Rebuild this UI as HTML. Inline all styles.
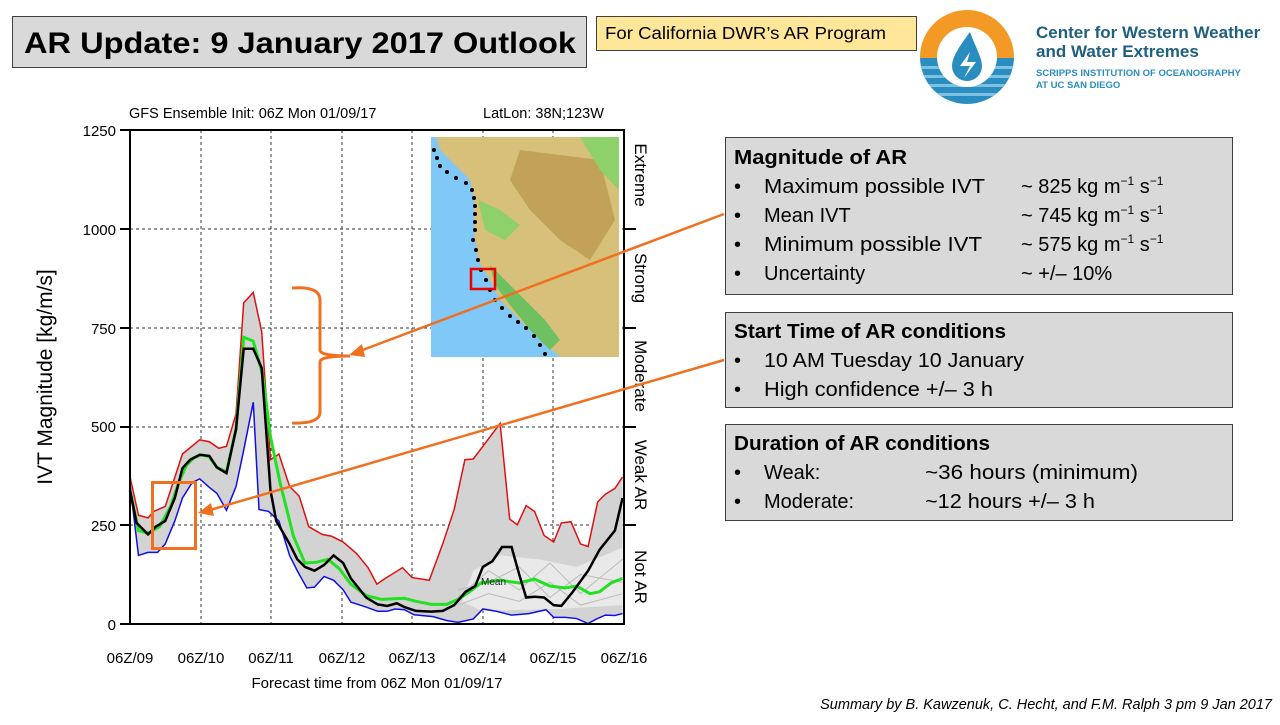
<!DOCTYPE html>
<html><head><meta charset="utf-8"><style>
body{margin:0;width:1280px;height:720px;overflow:hidden;background:#fff;font-family:"Liberation Sans",sans-serif}
</style></head><body>
<svg width="1280" height="720" xmlns="http://www.w3.org/2000/svg" font-family="Liberation Sans, sans-serif">
<rect x="12.5" y="16.5" width="574" height="51" fill="#d9d9d9" stroke="#404040"/>
<text x="24" y="53" font-size="30" font-weight="bold" fill="#000" textLength="552" lengthAdjust="spacingAndGlyphs">AR Update: 9 January 2017 Outlook</text>
<rect x="596.5" y="16.5" width="320" height="34" fill="#ffe699" stroke="#404040"/>
<text x="605" y="39" font-size="17.5" textLength="281" lengthAdjust="spacingAndGlyphs">For California DWR’s AR Program</text>
<defs><clipPath id="lc"><circle cx="967" cy="57" r="47"/></clipPath>
<clipPath id="mc"><rect x="431" y="137" width="188" height="220"/></clipPath></defs>
<g clip-path="url(#lc)">
<rect x="918" y="8" width="100" height="50" fill="#f39a26"/>
<rect x="918" y="58" width="100" height="50" fill="#2a8dc0"/>
<g fill="#7fbfdf"><rect x="918" y="66" width="100" height="3"/><rect x="918" y="75" width="100" height="3"/><rect x="918" y="84" width="100" height="3"/><rect x="918" y="93" width="100" height="3"/></g>
</g>
<circle cx="967" cy="57" r="30" fill="#fff"/>
<path d="M970 32 C958 48 952 58 952 66 a15 15 0 0 0 30 0 C982 58 976 48 970 32Z" fill="#2a8dc0"/>
<path d="M970 52 L960 66 L970 66 L964 78 L976 62 L967 62 Z" fill="#fff"/>
<text x="1036" y="38" font-size="17" font-weight="bold" fill="#1f5f7f">Center for Western Weather</text>
<text x="1036" y="57" font-size="17" font-weight="bold" fill="#1f5f7f">and Water Extremes</text>
<text x="1036" y="76" font-size="9.5" font-weight="bold" fill="#2a8dc0">SCRIPPS INSTITUTION OF OCEANOGRAPHY</text>
<text x="1036" y="88" font-size="9.5" font-weight="bold" fill="#2a8dc0">AT UC SAN DIEGO</text>

<text x="129" y="118" font-size="14.5">GFS Ensemble Init: 06Z Mon 01/09/17</text>
<text x="483" y="118" font-size="14.5">LatLon: 38N;123W</text>
<g font-size="15" text-anchor="end">
<text x="116" y="136">1250</text><text x="116" y="235">1000</text><text x="116" y="334">750</text><text x="116" y="432">500</text><text x="116" y="531">250</text><text x="116" y="630">0</text>
</g>
<text transform="translate(52,377) rotate(-90)" font-size="21" text-anchor="middle">IVT Magnitude [kg/m/s]</text>
<g font-size="15" text-anchor="middle">
<text x="130" y="663">06Z/09</text><text x="201" y="663">06Z/10</text><text x="271" y="663">06Z/11</text><text x="342" y="663">06Z/12</text><text x="412" y="663">06Z/13</text><text x="483" y="663">06Z/14</text><text x="553" y="663">06Z/15</text><text x="624" y="663">06Z/16</text>
</g>
<text x="377" y="688" font-size="15" text-anchor="middle">Forecast time from 06Z Mon 01/09/17</text>
<g font-size="17" text-anchor="middle">
<text transform="translate(635,175) rotate(90)">Extreme</text>
<text transform="translate(635,278) rotate(90)">Strong</text>
<text transform="translate(635,376) rotate(90)">Moderate</text>
<text transform="translate(635,475) rotate(90)">Weak AR</text>
<text transform="translate(635,577) rotate(90)">Not AR</text>
</g>
<g stroke="#333" stroke-width="1" stroke-dasharray="3,3">
<line x1="201" y1="130" x2="201" y2="624"/><line x1="271" y1="130" x2="271" y2="624"/><line x1="342" y1="130" x2="342" y2="624"/><line x1="412" y1="130" x2="412" y2="624"/><line x1="483" y1="130" x2="483" y2="624"/><line x1="553" y1="130" x2="553" y2="624"/>
<line x1="130" y1="229" x2="624" y2="229"/><line x1="130" y1="328" x2="624" y2="328"/><line x1="130" y1="427" x2="624" y2="427"/><line x1="130" y1="525" x2="624" y2="525"/>
</g>
<g transform="translate(60,100) scale(0.3827)">
<polygon fill="#d3d3d3" points="183,985 205,1085 230,1092 245,1075 275,1062 320,925 365,888 390,893 415,910 435,905 460,820 480,530 505,503 527,605 550,940 572,925 600,1010 625,1035 650,1115 685,1135 710,1140 740,1155 775,1185 805,1222 828,1265 850,1250 895,1222 920,1248 965,1255 1000,1160 1030,1070 1058,940 1080,938 1105,905 1150,845 1175,1095 1195,1110 1218,1060 1240,1075 1265,1138 1290,1155 1310,1105 1335,1102 1360,1160 1380,1167 1405,1050 1425,1030 1450,1015 1470,985 1470,1342 1450,1347 1425,1346 1400,1357 1380,1368 1350,1355 1320,1352 1290,1352 1270,1332 1225,1342 1180,1346 1140,1336 1105,1330 1080,1356 1040,1365 1010,1360 975,1350 925,1345 900,1332 875,1330 855,1336 830,1336 800,1325 760,1312 740,1280 715,1255 690,1245 665,1273 645,1275 620,1230 600,1190 572,1100 545,1075 520,1070 505,790 480,915 460,1010 435,1072 410,1028 390,1012 365,990 345,1000 320,1040 300,1100 275,1160 255,1182 230,1182 205,1190 183,1005"/>
<polygon fill="#e9e9e9" points="1080,1230 1150,1190 1250,1200 1350,1220 1470,1170 1470,1320 1300,1330 1100,1335 1050,1310"/>
<g fill="none" stroke="#bbb" stroke-width="1">
<polyline vector-effect="non-scaling-stroke" points="1040,1300 1120,1230 1200,1280 1280,1210 1360,1290 1470,1200"/>
<polyline vector-effect="non-scaling-stroke" points="1040,1320 1120,1290 1200,1310 1280,1260 1360,1320 1470,1290"/>
<polyline vector-effect="non-scaling-stroke" points="1040,1280 1120,1260 1200,1220 1280,1300 1360,1240 1470,1260"/>
</g>
<polyline fill="none" stroke="#e01010" stroke-width="1.5" vector-effect="non-scaling-stroke" points="183,985 205,1085 230,1092 245,1075 275,1062 320,925 365,888 390,893 415,910 435,905 460,820 480,530 505,503 527,605 550,940 572,925 600,1010 625,1035 650,1115 685,1135 710,1140 740,1155 775,1185 805,1222 828,1265 850,1250 895,1222 920,1248 965,1255 1000,1160 1030,1070 1058,940 1080,938 1105,905 1150,845 1175,1095 1195,1110 1218,1060 1240,1075 1265,1138 1290,1155 1310,1105 1335,1102 1360,1160 1380,1167 1405,1050 1425,1030 1450,1015 1470,985"/>
<polyline fill="none" stroke="#1010e0" stroke-width="1.5" vector-effect="non-scaling-stroke" points="183,1005 205,1190 230,1182 255,1182 275,1160 300,1100 320,1040 345,1000 365,990 390,1012 410,1028 435,1072 460,1010 480,915 505,790 520,1070 545,1075 572,1100 600,1190 620,1230 645,1275 665,1273 690,1245 715,1255 740,1280 760,1312 800,1325 830,1336 855,1336 875,1330 900,1332 925,1345 975,1350 1010,1360 1040,1365 1080,1356 1105,1330 1140,1336 1180,1346 1225,1342 1270,1332 1290,1352 1320,1352 1350,1355 1380,1368 1400,1357 1425,1346 1450,1347 1470,1342"/>
<polyline fill="none" stroke="#22e022" stroke-width="3" vector-effect="non-scaling-stroke" points="183,1020 205,1125 230,1132 260,1115 290,1060 310,1000 330,955 350,935 370,927 390,932 410,960 435,972 460,860 480,620 505,630 530,720 550,880 575,1000 610,1140 640,1210 670,1208 700,1200 730,1225 760,1265 800,1295 840,1305 900,1302 930,1310 970,1318 1010,1318 1040,1305 1070,1285 1100,1262 1150,1255 1200,1262 1240,1252 1280,1270 1320,1275 1350,1270 1385,1290 1410,1285 1440,1262 1470,1250"/>
<polyline fill="none" stroke="#000" stroke-width="2.5" vector-effect="non-scaling-stroke" points="183,1020 200,1105 230,1135 250,1115 275,1100 300,1040 320,962 340,940 365,927 390,930 410,960 435,975 460,860 480,650 505,650 527,700 550,1020 565,1100 600,1160 620,1200 640,1220 665,1230 690,1215 715,1190 740,1210 760,1250 800,1300 830,1318 855,1322 880,1315 900,1325 930,1335 970,1337 1000,1335 1030,1320 1060,1285 1085,1270 1105,1220 1130,1205 1155,1168 1180,1168 1200,1240 1218,1300 1240,1298 1265,1300 1290,1320 1310,1322 1340,1285 1380,1230 1410,1175 1450,1125 1470,1040"/>
</g>
<text x="481" y="585" font-size="10" fill="#222">Mean</text>
<rect x="130" y="130" width="494" height="494" fill="none" stroke="#000" stroke-width="2"/>
<g stroke="#000" stroke-width="2">
<line x1="120" y1="130" x2="130" y2="130"/><line x1="120" y1="229" x2="130" y2="229"/><line x1="120" y1="328" x2="130" y2="328"/><line x1="120" y1="427" x2="130" y2="427"/><line x1="120" y1="525" x2="130" y2="525"/><line x1="120" y1="624" x2="130" y2="624"/>
<line x1="624" y1="229" x2="636" y2="229"/><line x1="624" y1="328" x2="636" y2="328"/><line x1="624" y1="427" x2="636" y2="427"/><line x1="624" y1="525" x2="636" y2="525"/>
</g>
<g clip-path="url(#mc)">
<rect x="431" y="137" width="188" height="220" fill="#7fc8f8"/>
<polygon fill="#d7c07a" points="436,137 619,137 619,357 560,357 540,340 520,320 500,300 490,280 478,260 474,230 474,200 470,180 455,165 440,150"/>
<polygon fill="#b8954a" opacity="0.7" points="520,150 600,160 615,220 590,260 560,240 530,210 510,180"/>
<polygon fill="#8ed06a" points="580,137 619,137 619,190 600,170"/>
<polygon fill="#6ec060" points="490,265 505,280 525,300 545,320 560,340 550,350 530,330 510,305 495,285"/>
<polygon fill="#8ed06a" points="478,200 500,210 520,225 505,240 485,230"/>
</g>
<g fill="#000">
<circle cx="434" cy="150" r="2"/><circle cx="437" cy="158" r="2"/><circle cx="440" cy="166" r="2"/><circle cx="447" cy="172" r="2"/><circle cx="456" cy="178" r="2"/><circle cx="466" cy="183" r="2"/><circle cx="472" cy="190" r="2"/><circle cx="474" cy="198" r="2"/><circle cx="475" cy="206" r="2"/><circle cx="475" cy="214" r="2"/><circle cx="475" cy="222" r="2"/><circle cx="475" cy="230" r="2"/><circle cx="473" cy="240" r="2"/><circle cx="476" cy="250" r="2"/><circle cx="478" cy="260" r="2"/><circle cx="481" cy="270" r="2"/><circle cx="486" cy="280" r="2"/><circle cx="490" cy="290" r="2"/><circle cx="495" cy="300" r="2"/><circle cx="502" cy="308" r="2"/><circle cx="510" cy="316" r="2"/><circle cx="518" cy="322" r="2"/><circle cx="526" cy="328" r="2"/><circle cx="534" cy="336" r="2"/><circle cx="540" cy="345" r="2"/><circle cx="545" cy="354" r="2"/>
</g>
<rect x="471" y="269" width="24" height="20" fill="none" stroke="#e00" stroke-width="2.5"/>
<path d="M292 288 Q320 286 320 300 L320 350 Q320 356 350 356 Q320 356 320 362 L320 412 Q320 424 292 423" fill="none" stroke="#f07020" stroke-width="3"/>
<line x1="724" y1="214" x2="360" y2="351" stroke="#f07020" stroke-width="2.5"/>
<polygon points="349,355 362,344 365,357" fill="#f07020"/>
<rect x="152.5" y="482.5" width="43" height="66" fill="none" stroke="#f07020" stroke-width="3"/>
<line x1="724" y1="360" x2="210" y2="510" stroke="#f07020" stroke-width="2.5"/>
<polygon points="198,513 211,503 214,516" fill="#f07020"/>
<g fill="#d9d9d9" stroke="#404040">
<rect x="725.5" y="137.5" width="507" height="157"/>
<rect x="725.5" y="312.5" width="507" height="95"/>
<rect x="725.5" y="424.5" width="507" height="96"/>
</g>
<g font-size="20" fill="#000">
<text x="734" y="164" font-weight="bold" textLength="173" lengthAdjust="spacingAndGlyphs">Magnitude of AR</text>
<text x="734" y="193">•</text><text x="764" y="193" textLength="221" lengthAdjust="spacingAndGlyphs">Maximum possible IVT</text><text x="1021" y="193">~ 825 kg m<tspan font-size="12" dy="-8">−1</tspan><tspan dy="8"> s</tspan><tspan font-size="12" dy="-8">−1</tspan></text>
<text x="734" y="222">•</text><text x="764" y="222">Mean IVT</text><text x="1021" y="222">~ 745 kg m<tspan font-size="12" dy="-8">−1</tspan><tspan dy="8"> s</tspan><tspan font-size="12" dy="-8">−1</tspan></text>
<text x="734" y="251">•</text><text x="764" y="251" textLength="218" lengthAdjust="spacingAndGlyphs">Minimum possible IVT</text><text x="1021" y="251">~ 575 kg m<tspan font-size="12" dy="-8">−1</tspan><tspan dy="8"> s</tspan><tspan font-size="12" dy="-8">−1</tspan></text>
<text x="734" y="280">•</text><text x="764" y="280">Uncertainty</text><text x="1021" y="280">~ +/– 10%</text>
<text x="734" y="338" font-weight="bold" textLength="272" lengthAdjust="spacingAndGlyphs">Start Time of AR conditions</text>
<text x="734" y="367">•</text><text x="764" y="367" textLength="260" lengthAdjust="spacingAndGlyphs">10 AM Tuesday 10 January</text>
<text x="734" y="396">•</text><text x="764" y="396" textLength="229" lengthAdjust="spacingAndGlyphs">High confidence +/– 3 h</text>
<text x="734" y="450" font-weight="bold" textLength="256" lengthAdjust="spacingAndGlyphs">Duration of AR conditions</text>
<text x="734" y="479">•</text><text x="764" y="479">Weak:</text><text x="925" y="479" textLength="213" lengthAdjust="spacingAndGlyphs">~36 hours (minimum)</text>
<text x="734" y="508">•</text><text x="764" y="508">Moderate:</text><text x="925" y="508" textLength="170" lengthAdjust="spacingAndGlyphs">~12 hours +/– 3 h</text>
</g>
<text x="1272" y="709" font-size="14.5" font-style="italic" text-anchor="end">Summary by B. Kawzenuk, C. Hecht, and F.M. Ralph 3 pm 9 Jan 2017</text>
</svg>
</body></html>
